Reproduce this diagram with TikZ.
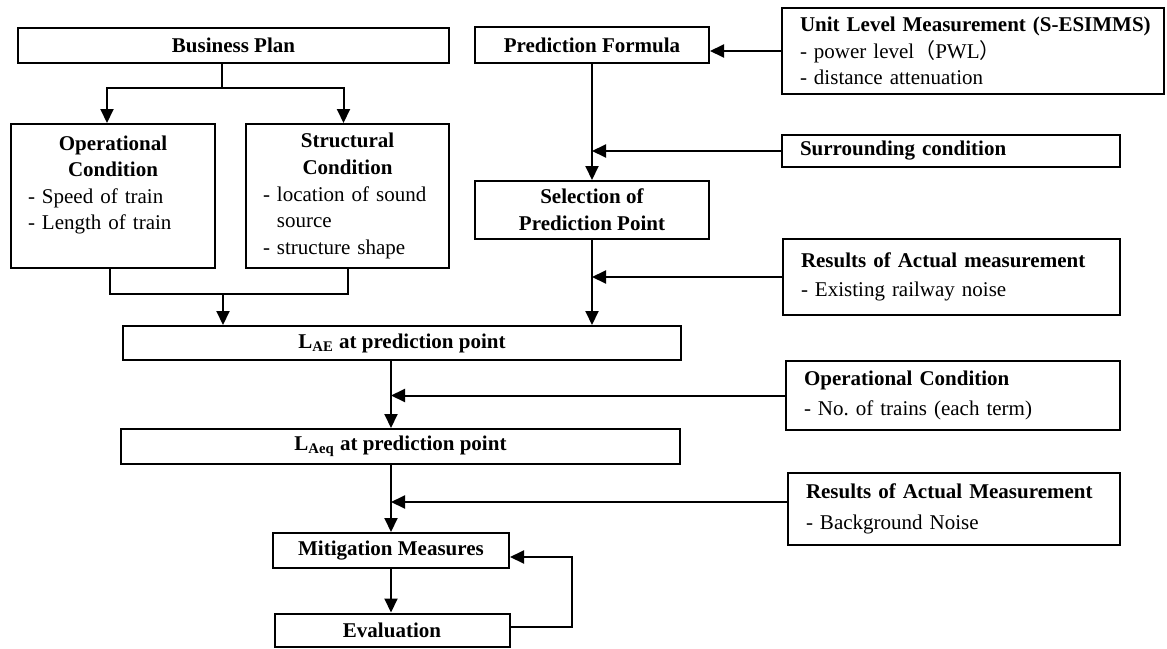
\documentclass[tikz,border=0pt]{standalone}
\usepackage{fontspec}
\setmainfont{Liberation Serif}
\newfontfamily\cjk{Noto Sans CJK JP}
\usepackage{tikz}
\usetikzlibrary{arrows.meta}
\newcommand{\lft}[1]{\makebox[\linewidth][l]{#1}}

\begin{document}
\begin{tikzpicture}[x=0.5pt,y=-0.5pt,
        box/.style={draw, line width=1pt, inner sep=0pt, font={\fontsize{10.5}{13.3}\selectfont}},
        side/.style={box, align=left, inner xsep=9pt},
        link/.style={line width=1pt},
        arr/.style={-{Triangle[length=7pt,width=6.5pt]}, line width=1pt}]
        \useasboundingbox (0,0) rectangle (1167,648);
        % left column
        \node[box, minimum width=215.5pt, minimum height=17.5pt] (bplan) at (233.5,45.5) {\textbf{Business Plan}};
        \node[box, align=center, text width=85pt, inner xsep=8.5pt, minimum height=72pt] (opcond) at (113,196)
            {\textbf{Operational}\\\textbf{Condition}\\\lft{- Speed of train}\\\lft{- Length of train}\\\mbox{}};
        \node[box, align=center, text width=84.5pt, inner xsep=8.5pt, minimum height=72pt] (strcond) at (347.5,196)
            {\textbf{Structural}\\\textbf{Condition}\\\lft{- location of sound}\\\lft{\phantom{- }source}\\\lft{- structure shape}};
        % middle column
        \node[box, minimum width=117pt, minimum height=18pt] (predf) at (592,45) {\textbf{Prediction Formula}};
        \node[box, align=center, minimum width=117pt, minimum height=29pt] (selpt) at (592,210) {\textbf{Selection of}\\\textbf{Prediction Point}};
        \node[box, minimum width=279pt, minimum height=17pt] (lae) at (402,343) {\textbf{L\textsubscript{AE} at prediction point}};
        \node[box, minimum width=279.5pt, minimum height=17.5pt] (laeq) at (400.5,446.5) {\textbf{L\textsubscript{Aeq} at prediction point}};
        \node[box, minimum width=118pt, minimum height=17.5pt] (mitig) at (391,550.5) {\textbf{Mitigation Measures}};
        \node[box, minimum width=117.5pt, minimum height=16.5pt] (evalu) at (392,630) {\textbf{Evaluation}};
        % right column
        \node[side, text width=173pt, minimum height=43pt] (unit) at (973,51)
            {\mbox{\textbf{Unit Level Measurement (S-ESIMMS)}}\\- power level{\cjk （}PWL{\cjk ）}\\- distance attenuation};
        \node[side, text width=151pt, minimum height=16pt] (surr) at (951,151) {\textbf{Surrounding condition}};
        \node[side, text width=150.5pt, minimum height=38pt] (resexist) at (951.5,277)
            {\textbf{Results of Actual measurement}\\[1.2pt]- Existing railway noise};
        \node[side, text width=149pt, minimum height=34.5pt] (opnum) at (953,395.5)
            {\textbf{Operational Condition}\\[2pt]- No.\ of trains (each term)};
        \node[side, text width=148pt, minimum height=36pt] (resbg) at (954,509)
            {\textbf{Results of Actual Measurement}\\[2pt]- Background Noise};

        % business plan splits
        \coordinate (fork) at (222,88);
        \draw[link] (fork |- bplan.south) -- (fork);
        \draw[arr] (fork) -| ([xshift=-3pt]opcond.north);
        \draw[arr] (fork) -| ([xshift=-2pt]strcond.north);
        % conditions join
        \coordinate (join) at (223,294);
        \draw[link] ([xshift=-1.5pt]opcond.south) |- (join) -| (strcond.south);
        \draw[arr] (join) -- (join |- lae.north);
        % prediction branch
        \draw[arr] (unit.west) -- (unit.west -| predf.east);
        \draw[arr] (predf.south) -- (selpt.north);
        \draw[arr] (surr.west) -- (surr.west -| predf.south);
        \draw[arr] (selpt.south) -- (selpt.south |- lae.north);
        \draw[arr] (resexist.west) -- (resexist.west -| selpt.south);
        % main trunk
        \draw[arr] (lae.south -| mitig) -- (laeq.north -| mitig);
        \draw[arr] (opnum.west) -- (opnum.west -| mitig);
        \draw[arr] (laeq.south -| mitig) -- (mitig.north);
        \coordinate (bgin) at ([yshift=3.5pt]resbg.west);
        \draw[arr] (bgin) -- (bgin -| mitig);
        \draw[arr] (mitig.south) -- (mitig.south |- evalu.north);
        % feedback
        \coordinate (back) at (572,557);
        \draw[arr] ([yshift=1.5pt]evalu.east) -| (back) -- (back -| mitig.east);
\end{tikzpicture}
\end{document}
